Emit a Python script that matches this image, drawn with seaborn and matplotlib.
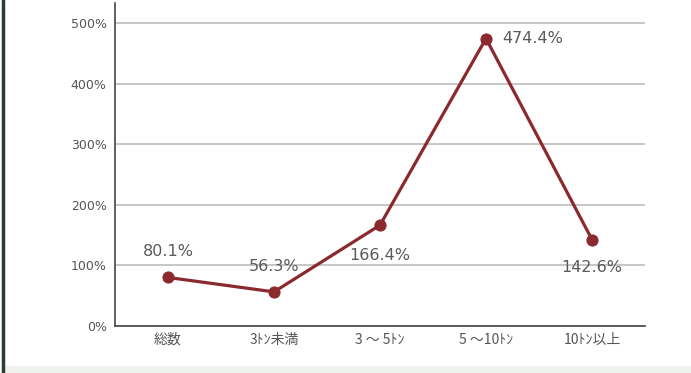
import matplotlib
matplotlib.use("Agg")
import matplotlib.pyplot as plt
import seaborn as sns
import pandas as pd
from matplotlib.lines import Line2D
from matplotlib.patches import Rectangle

categories = ["総数", "3ﾄﾝ未満", "3 ～ 5ﾄﾝ", "5 ～10ﾄﾝ", "10ﾄﾝ以上"]
values = [80.1, 56.3, 166.4, 474.4, 142.6]
value_labels = ["80.1%", "56.3%", "166.4%", "474.4%", "142.6%"]
yticks = [0, 100, 200, 300, 400, 500]
ytick_labels = ["0%", "100%", "200%", "300%", "400%", "500%"]

sns.set_style("white")
plt.rcParams["font.family"] = ["Noto Sans CJK JP", "DejaVu Sans"]

df = pd.DataFrame({"pos": range(len(categories)), "value": values})

fig = plt.figure(figsize=(6.91, 3.73), dpi=100)
ax = fig.add_axes([115 / 691, 1 - 326 / 373, 530 / 691, 323 / 373])

line_color = "#8b2a2e"
sns.lineplot(data=df, x="pos", y="value", ax=ax, color=line_color, linewidth=2.3,
             marker="o", markersize=8, markeredgecolor=line_color, sort=False)

ax.set_xlim(-0.5, len(categories) - 0.5)
ax.set_ylim(0, 533)
ax.set_yticks(yticks)
ax.set_yticklabels(ytick_labels, fontsize=9, color="#555555", family=["DejaVu Sans"])
ax.yaxis.grid(True, color="#c6c6c6", linewidth=1.4)
ax.set_axisbelow(True)

# category labels in the middle, tick marks on the boundaries
ax.set_xticks([i - 0.5 for i in range(len(categories) + 1)])
ax.set_xticklabels([])
ax.set_xticks(range(len(categories)), minor=True)
ax.set_xticklabels(categories, minor=True, fontsize=10, color="#555555")
ax.tick_params(axis="x", which="minor", length=0, pad=5)
ax.tick_params(axis="x", which="major", direction="out", length=4, width=1, color="#444444")
ax.tick_params(axis="y", direction="out", length=4, width=1, color="#444444", pad=2)

for side in ["top", "right"]:
    ax.spines[side].set_visible(False)
for side in ["left", "bottom"]:
    ax.spines[side].set_color("#444444")
    ax.spines[side].set_linewidth(1.2)
ax.set_xlabel("")
ax.set_ylabel("")

# data labels
offsets = [(0, 19), (0, 18), (0, -22), (12, 0), (0, -20)]
aligns = ["center", "center", "center", "left", "center"]
for i, (v, lab) in enumerate(zip(values, value_labels)):
    ax.annotate(lab, (i, v), xytext=offsets[i], textcoords="offset points",
                ha=aligns[i], va="center", fontsize=11.5, color="#5a5a5a",
                family=["DejaVu Sans"])

# frame decorations from the screenshot
fig.add_artist(Line2D([3 / 691, 3 / 691], [0, 1], color="#2f3a33", linewidth=2.5))
fig.add_artist(Rectangle((5 / 691, 0), 1, 7 / 373, color="#f0f2f0", zorder=-1))

fig.savefig("out.png", dpi=100)
